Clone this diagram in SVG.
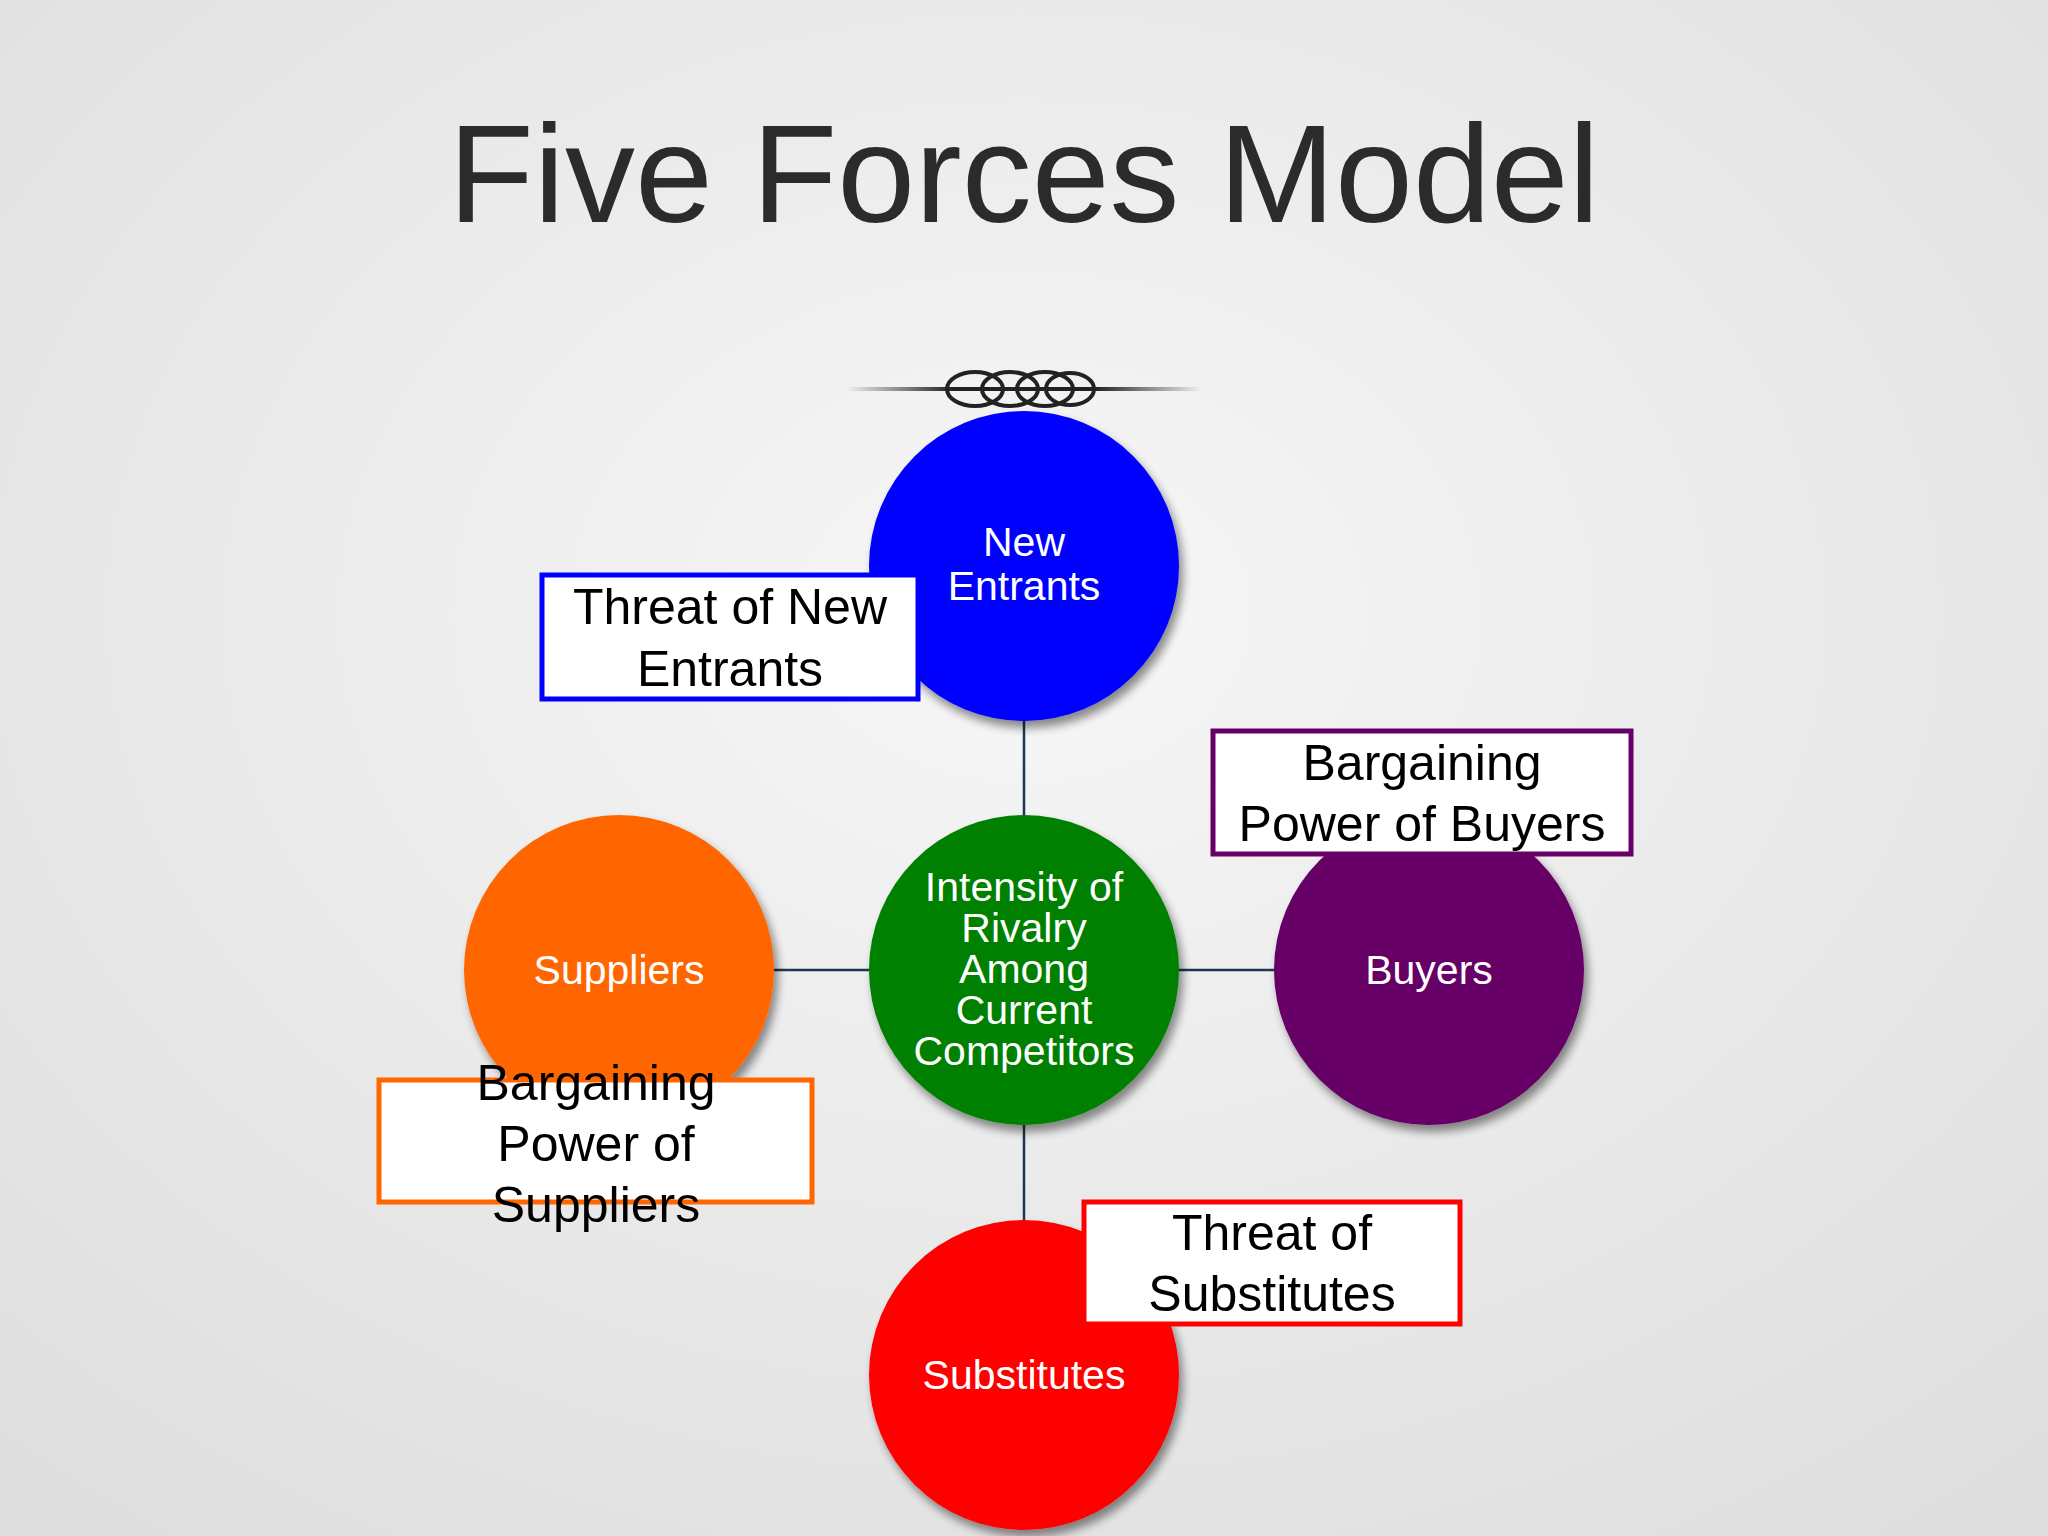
<svg xmlns="http://www.w3.org/2000/svg" width="2048" height="1536" viewBox="0 0 2048 1536">
<defs>
<radialGradient id="bg" cx="50%" cy="40%" r="75%"><stop offset="0" stop-color="#f7f7f7"/><stop offset="1" stop-color="#dedede"/></radialGradient>
<filter id="sh" x="-20%" y="-20%" width="150%" height="150%"><feGaussianBlur in="SourceAlpha" stdDeviation="5"/><feOffset dx="4" dy="7"/><feComponentTransfer><feFuncA type="linear" slope="0.45"/></feComponentTransfer><feMerge><feMergeNode/><feMergeNode in="SourceGraphic"/></feMerge></filter>
<linearGradient id="orn" gradientUnits="userSpaceOnUse" x1="846" y1="0" x2="1202" y2="0"><stop offset="0" stop-color="#222" stop-opacity="0"/><stop offset="0.3" stop-color="#222"/><stop offset="0.7" stop-color="#222"/><stop offset="1" stop-color="#222" stop-opacity="0"/></linearGradient>
</defs>
<style>
.ct{font-family:"Liberation Sans",Arial,sans-serif;font-size:41px;fill:#fff;text-anchor:middle}
.bt{font-family:"Liberation Sans",Arial,sans-serif;font-size:50px;fill:#000;text-anchor:middle}
.box{fill:#fff;stroke-width:5}
.con line{stroke:#1f3550;stroke-width:2.5}
</style>
<rect width="2048" height="1536" fill="url(#bg)"/>
<text x="1024" y="222" font-family="Liberation Sans,Arial,sans-serif" font-size="140" fill="#2b2b2b" text-anchor="middle">Five Forces Model</text>
<g id="ornament" fill="none" stroke="#222">
<path d="M846 389 L1202 389" stroke="url(#orn)" stroke-width="4"/>
<ellipse cx="975" cy="389" rx="28" ry="17" stroke-width="4"/>
<ellipse cx="1010" cy="389" rx="28" ry="17" stroke-width="4"/>
<ellipse cx="1045" cy="389" rx="28" ry="17" stroke-width="4"/>
<ellipse cx="1070" cy="389" rx="24" ry="16" stroke-width="4"/>
</g>
<g class="con" id="connectors">
<line x1="1024" y1="720" x2="1024" y2="815"/>
<line x1="1024" y1="1125" x2="1024" y2="1220"/>
<line x1="774" y1="970" x2="869" y2="970"/>
<line x1="1179" y1="970" x2="1274" y2="970"/>
</g>
<g id="new-entrants"><circle cx="1024" cy="566" r="155" fill="#0000ff" filter="url(#sh)"/><text class="ct" x="1024" y="556">New</text><text class="ct" x="1024" y="600">Entrants</text></g>
<g id="rivalry"><circle cx="1024" cy="970" r="155" fill="#008000" filter="url(#sh)"/><text class="ct" x="1024" y="901">Intensity of</text><text class="ct" x="1024" y="942">Rivalry</text><text class="ct" x="1024" y="983">Among</text><text class="ct" x="1024" y="1024">Current</text><text class="ct" x="1024" y="1065">Competitors</text></g>
<g id="suppliers"><circle cx="619" cy="970" r="155" fill="#ff6600" filter="url(#sh)"/><text class="ct" x="619" y="984">Suppliers</text></g>
<g id="buyers"><circle cx="1429" cy="970" r="155" fill="#660066" filter="url(#sh)"/><text class="ct" x="1429" y="984">Buyers</text></g>
<g id="substitutes"><circle cx="1024" cy="1375" r="155" fill="#ff0000" filter="url(#sh)"/><text class="ct" x="1024" y="1389">Substitutes</text></g>
<g id="box-new"><rect class="box" x="542" y="575" width="376" height="124" stroke="#0000ff"/><text class="bt" x="730" y="624">Threat of New</text><text class="bt" x="730" y="686">Entrants</text></g>
<g id="box-buyers"><rect class="box" x="1213" y="731" width="418" height="123" stroke="#660066"/><text class="bt" x="1422" y="780">Bargaining</text><text class="bt" x="1422" y="841">Power of Buyers</text></g>
<g id="box-suppliers"><rect class="box" x="379" y="1080" width="433" height="122" stroke="#ff6600"/><text class="bt" x="596" y="1100">Bargaining</text><text class="bt" x="596" y="1161">Power of</text><text class="bt" x="596" y="1222">Suppliers</text></g>
<g id="box-substitutes"><rect class="box" x="1084" y="1202" width="376" height="122" stroke="#ff0000"/><text class="bt" x="1272" y="1250">Threat of</text><text class="bt" x="1272" y="1311">Substitutes</text></g>
</svg>
